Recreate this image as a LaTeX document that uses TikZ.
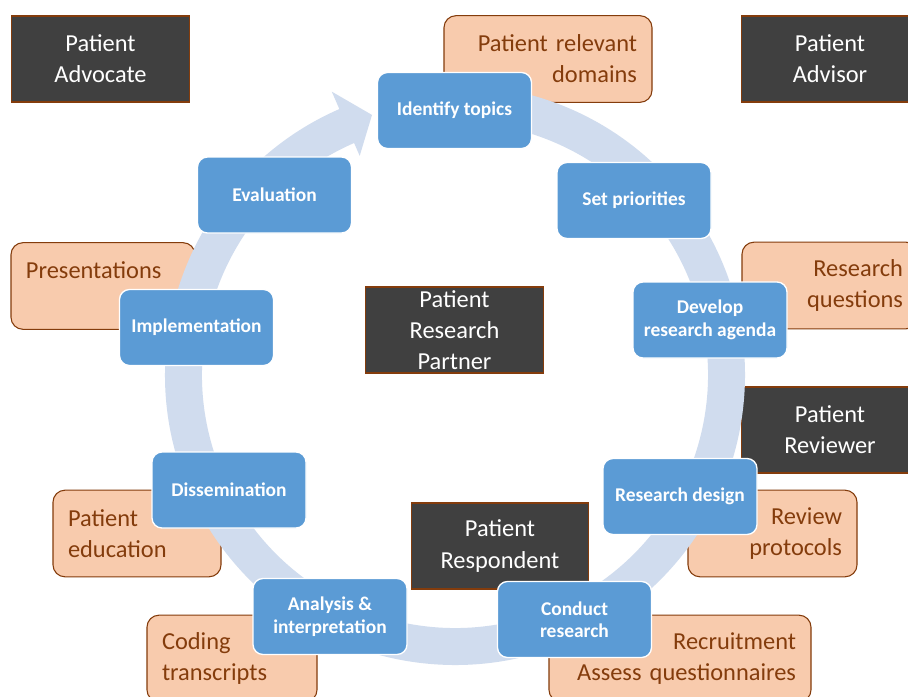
\documentclass[tikz,border=0pt]{standalone}
\usepackage{fontspec}
\setmainfont{Carlito}
\definecolor{bluebox}{HTML}{5B9BD5}
\definecolor{ringc}{HTML}{D0DCEE}
\definecolor{peach}{HTML}{F8CBAD}
\definecolor{brn}{HTML}{843C0C}
\definecolor{darkfill}{HTML}{404040}
\newcommand{\regfont}{\fontsize{18.3pt}{23.3pt}\selectfont}
\newcommand{\boldfont}{\fontsize{14.6pt}{16.8pt}\selectfont\bfseries}
\begin{document}
\begin{tikzpicture}[x=0.75pt,y=-0.75pt,
  stepbox/.style={rectangle, fill=bluebox, draw=white, line width=1pt, rounded corners=7.5pt,
    minimum width=115.5pt, minimum height=57pt, inner sep=2pt, align=center, text=white, font=\boldfont},
  rolebox/.style={rectangle, fill=darkfill, draw=brn, line width=0.8pt,
    minimum width=133pt, minimum height=64.5pt, inner sep=2pt, align=center, text=white, font=\regfont},
  notebox/.style={rectangle, fill=peach, draw=brn, line width=0.8pt, rounded corners=9pt,
    minimum height=65pt, inner xsep=11.25pt, inner ysep=0pt, text=brn, font=\regfont}]
\clip (0,0) rectangle (908,697);
\fill[white] (0,0) rectangle (908,697);

% orange notes
\node[notebox, text width=133.5pt, align=right] (domains) at (548,59) {Patient relevant\\domains};
\node[notebox, text width=109.5pt, align=right] (questions) at (830,285.5) {Research\\questions};
\node[notebox, text width=104.25pt, align=right] (protocols) at (772.5,533.5) {Review\\protocols};
\node[notebox, text width=174pt, align=right] (recruit) at (680,658.5) {Recruitment\\Assess questionnaires};
\node[notebox, text width=105pt, align=left] (coding) at (232,658.5) {Coding\\transcripts};
\node[notebox, text width=103.5pt, align=left] (education) at (137,533.5) {Patient\\education};
\node[notebox, text width=115.5pt, align=left] (presentations) at (103,286) {Presentations\\\mbox{}};

% dark role boxes
\node[rolebox] (advocate) at (100.5,59) {Patient\\Advocate};
\node[rolebox] (advisor) at (830,59) {Patient\\Advisor};
\node[rolebox] (partner) at (454.5,330) {Patient\\Research\\Partner};
\node[rolebox] (reviewer) at (830,430) {Patient\\Reviewer};
\node[rolebox] (respondent) at (500,546) {Patient\\Respondent};

% cycle ring with arrowhead
\begin{scope}[shift={(455,375)}]
\fill[ringc] (-85:290) arc[start angle=-85, end angle=246.5, radius=290]
  -- (246.5:309) -- (252.3:273) -- (246.5:239) -- (246.5:253)
  arc[start angle=246.5, end angle=-85, radius=253] -- cycle;
\end{scope}

% blue steps
\node[stepbox] (identify) at (454.5,110.5) {Identify topics};
\node[stepbox] (priorities) at (634,200.5) {Set priorities};
\node[stepbox] (agenda) at (710,320) {Develop\\research agenda};
\node[stepbox] (design) at (680,496.5) {Research design};
\node[stepbox] (conduct) at (574.5,619.5) {Conduct\\research};
\node[stepbox] (analysis) at (330,616.5) {Analysis \&\\interpretation};
\node[stepbox] (dissemination) at (229,490) {Dissemination};
\node[stepbox] (implementation) at (196.5,327.5) {Implementation};
\node[stepbox] (evaluation) at (274.5,195) {Evaluation};
\end{tikzpicture}
\end{document}
